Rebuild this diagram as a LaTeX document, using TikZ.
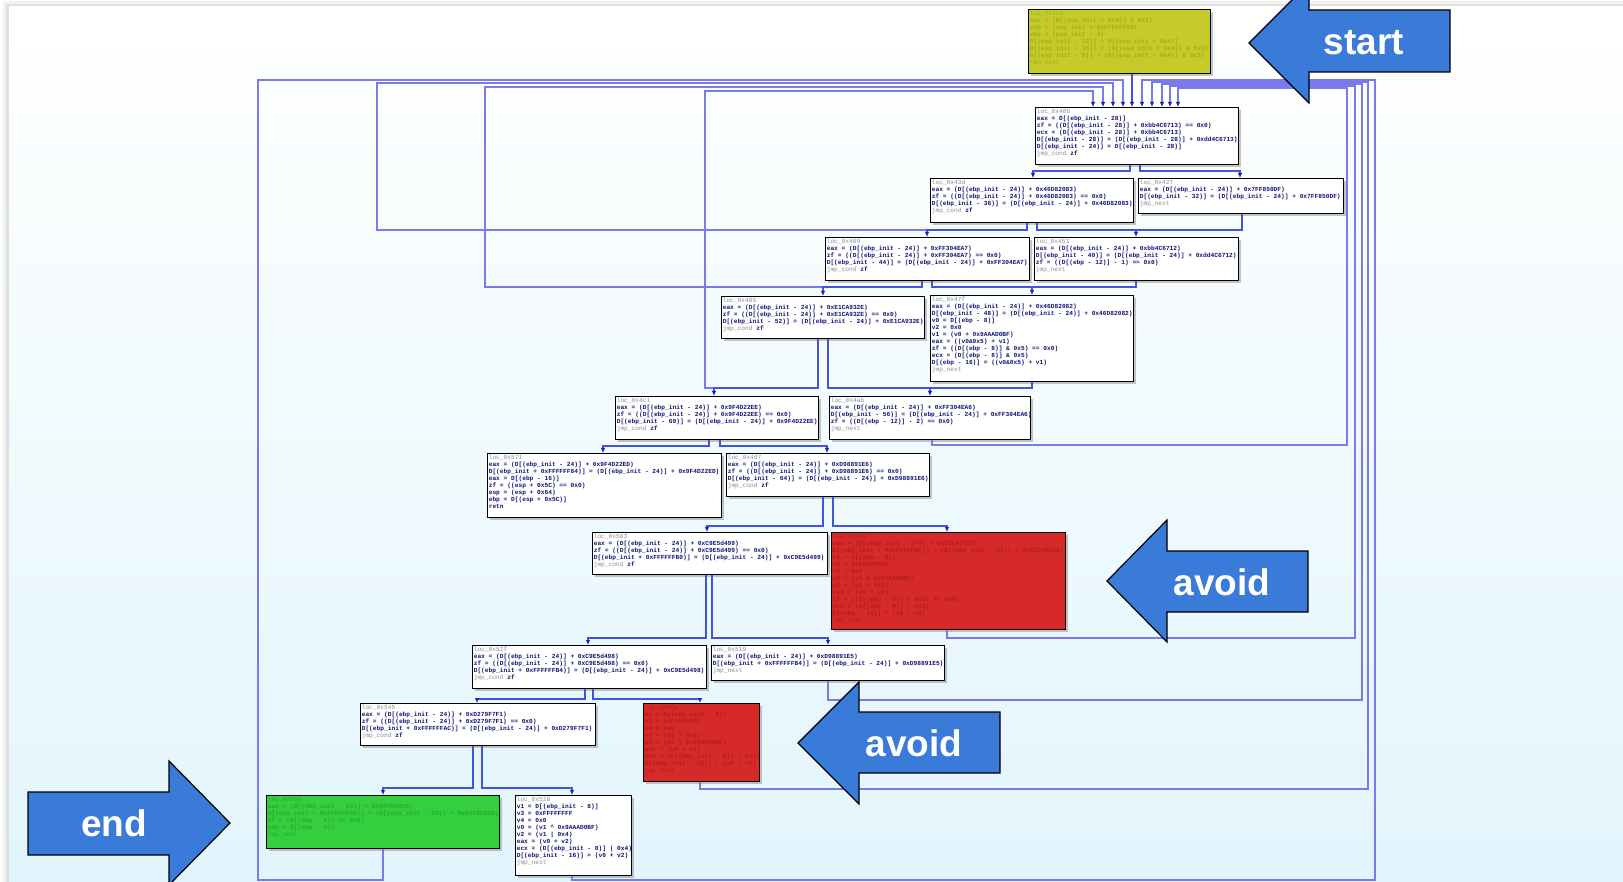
\documentclass[tikz,border=0pt]{standalone}
\usepackage{fontspec}
\setmonofont{Liberation Mono}
\newfontfamily\labelfont{Liberation Sans}
\usetikzlibrary{arrows.meta,shadows}

\definecolor{codeblue}{RGB}{18,20,120}
\definecolor{hdgray}{RGB}{140,140,150}
\definecolor{startfill}{RGB}{197,204,42}
\definecolor{starttext}{RGB}{165,172,28}
\definecolor{avoidfill}{RGB}{214,42,42}
\definecolor{avoidtext}{RGB}{180,28,28}
\definecolor{endfill}{RGB}{52,206,62}
\definecolor{endtext}{RGB}{38,172,46}
\definecolor{edgeblue}{RGB}{66,84,222}
\definecolor{backblue}{RGB}{122,122,234}
\definecolor{tipblue}{RGB}{20,36,190}
\definecolor{arrowblue}{RGB}{58,122,216}
\definecolor{bgcyan}{RGB}{226,245,252}
\colorlet{hdcol}{hdgray}

\newcommand\blkfont{\ttfamily\bfseries\fontsize{6.2}{7}\selectfont}
\newcommand\blkhd[1]{{\mdseries\color{hdcol}#1}}
\newcommand\blktext[3]{\parbox[c][#2pt][t]{#1pt}{\vspace*{1.2pt}\hspace*{1.3pt}\blkfont\begin{tabular}[t]{@{}l@{}}#3\end{tabular}}}

\tikzset{
    cfgbox/.style={draw=black, line width=1pt, inner sep=0pt, anchor=north west,
        drop shadow={shadow xshift=2.5pt, shadow yshift=-2.5pt, opacity=.45}},
    plainblk/.style={cfgbox, fill=white, text=codeblue},
    startblk/.style={cfgbox, fill=startfill, text=starttext, execute at begin node={\colorlet{hdcol}{starttext}}},
    avoidblk/.style={cfgbox, fill=avoidfill, text=avoidtext, execute at begin node={\colorlet{hdcol}{avoidtext}}},
    endblk/.style={cfgbox, fill=endfill, text=endtext, execute at begin node={\colorlet{hdcol}{endtext}}},
    cfgedge/.style={draw=edgeblue, line width=1.6pt, -{Latex[length=5pt,width=4.5pt,color=tipblue]}},
    cfgflow/.style={draw=edgeblue, line width=1.6pt},
    backedge/.style={draw=backblue, line width=1.3pt, -{Latex[length=5pt,width=4.5pt,color=tipblue]}},
    bigarrow/.style={fill=arrowblue, draw=black, line width=1.2pt},
    bigtext/.style={text=white, font=\labelfont\bfseries\fontsize{37}{40}\selectfont}
}

\begin{document}
\begin{tikzpicture}[x=1pt, y=-1pt]
            \useasboundingbox (0,0) rectangle (1623,882);

            \clip (0,0) rectangle (1623,882);

            \fill[white] (0,0) rectangle (1623,882);

            \fill[black!5] (3,1) rectangle (1623,882);

            \fill[black!12] (6,4) rectangle (1623,882);

            \shade[top color=white, bottom color=bgcyan] (9,7) rectangle (1623,882);

            \node[startblk] (b3c0) at (1028,9) {\blktext{182}{64}{\blkhd{loc\_0x3c0}\\
                eax = (D[(esp\_init + 0x4)] \& 0x3)\\
                esp = (esp\_init + 0xFFFFFF80)\\
                ebp = (esp\_init - 4)\\
                D[(esp\_init - 12)] = D[(esp\_init + 0x4)]\\
                D[(esp\_init - 16)] = (D[(esp\_init + 0x4)] \& 0x3)\\
                D[(esp\_init - 8)] = (D[(esp\_init + 0x4)] \& 0x3)\\
                \blkhd{jmp\_next}}};

            \node[plainblk] (b40b) at (1035,107) {\blktext{203}{57}{\blkhd{loc\_0x40b}\\
                eax = D[(ebp\_init - 28)]\\
                zf = ((D[(ebp\_init - 28)] + 0xbb4C6713) == 0x0)\\
                ecx = (D[(ebp\_init - 28)] + 0xbb4C6713)\\
                D[(ebp\_init - 28)] = (D[(ebp\_init - 28)] + 0xdd4C6713)\\
                D[(ebp\_init - 24)] = D[(ebp\_init - 28)]\\
                \blkhd{jmp\_cond} zf}};

            \node[plainblk] (b43d) at (930,178) {\blktext{203}{44}{\blkhd{loc\_0x43d}\\
                eax = (D[(ebp\_init - 24)] + 0x46D82083)\\
                zf = ((D[(ebp\_init - 24)] + 0x46D82083) == 0x0)\\
                D[(ebp\_init - 36)] = (D[(ebp\_init - 24)] + 0x46D82083)\\
                \blkhd{jmp\_cond} zf}};

            \node[plainblk] (b427) at (1138,178) {\blktext{205}{35}{\blkhd{loc\_0x427}\\
                eax = (D[(ebp\_init - 24)] + 0x7FF850DF)\\
                D[(ebp\_init - 32)] = (D[(ebp\_init - 24)] + 0x7FF850DF)\\
                \blkhd{jmp\_next}}};

            \node[plainblk] (b469) at (825,237) {\blktext{204}{43}{\blkhd{loc\_0x469}\\
                eax = (D[(ebp\_init - 24)] + 0xFF304EA7)\\
                zf = ((D[(ebp\_init - 24)] + 0xFF304EA7) == 0x0)\\
                D[(ebp\_init - 44)] = (D[(ebp\_init - 24)] + 0xFF304EA7)\\
                \blkhd{jmp\_cond} zf}};

            \node[plainblk] (b453) at (1034,237) {\blktext{204}{43}{\blkhd{loc\_0x453}\\
                eax = (D[(ebp\_init - 24)] + 0xbb4C6712)\\
                D[(ebp\_init - 40)] = (D[(ebp\_init - 24)] + 0xdd4C6712)\\
                zf = ((D[(ebp - 12)] - 1) == 0x0)\\
                \blkhd{jmp\_next}}};

            \node[plainblk] (b485) at (721,296) {\blktext{203}{42}{\blkhd{loc\_0x485}\\
                eax = (D[(ebp\_init - 24)] + 0xE1CA932E)\\
                zf = ((D[(ebp\_init - 24)] + 0xE1CA932E) == 0x0)\\
                D[(ebp\_init - 52)] = (D[(ebp\_init - 24)] + 0xE1CA932E)\\
                \blkhd{jmp\_cond} zf}};

            \node[plainblk] (b47f) at (930,295) {\blktext{203}{86}{\blkhd{loc\_0x47f}\\
                eax = (D[(ebp\_init - 24)] + 0x46D82082)\\
                D[(ebp\_init - 48)] = (D[(ebp\_init - 24)] + 0x46D82082)\\
                v0 = D[(ebp - 8)]\\
                v2 = 0x0\\
                v1 = (v0 + 0x9AAAD0BF)\\
                eax = ((v0\&0x5) + v1)\\
                zf = ((D[(ebp - 8)] \& 0x5) == 0x0)\\
                ecx = (D[(ebp - 8)] \& 0x5)\\
                D[(ebp - 16)] = ((v0\&0x5) + v1)\\
                \blkhd{jmp\_next}}};

            \node[plainblk] (b4c1) at (615,396) {\blktext{203}{43}{\blkhd{loc\_0x4c1}\\
                eax = (D[(ebp\_init - 24)] + 0x9F4D22EE)\\
                zf = ((D[(ebp\_init - 24)] + 0x9F4D22EE) == 0x0)\\
                D[(ebp\_init - 60)] = (D[(ebp\_init - 24)] + 0x9F4D22EE)\\
                \blkhd{jmp\_cond} zf}};

            \node[plainblk] (b4ab) at (829,396) {\blktext{201}{43}{\blkhd{loc\_0x4ab}\\
                eax = (D[(ebp\_init - 24)] + 0xFF304EA6)\\
                D[(ebp\_init - 56)] = (D[(ebp\_init - 24)] + 0xFF304EA6)\\
                zf = ((D[(ebp - 12)] - 2) == 0x0)\\
                \blkhd{jmp\_next}}};

            \node[plainblk] (b571) at (487,453) {\blktext{234}{64}{\blkhd{loc\_0x571}\\
                eax = (D[(ebp\_init - 24)] + 0x9F4D22ED)\\
                D[(ebp\_init + 0xFFFFFF84)] = (D[(ebp\_init - 24)] + 0x9F4D22ED)\\
                eax = D[(ebp - 16)]\\
                zf = ((esp + 0x5C) == 0x0)\\
                esp = (esp + 0x64)\\
                ebp = D[(esp + 0x5C)]\\
                retn}};

            \node[plainblk] (b4d7) at (726,453) {\blktext{203}{43}{\blkhd{loc\_0x4d7}\\
                eax = (D[(ebp\_init - 24)] + 0xD98891E6)\\
                zf = ((D[(ebp\_init - 24)] + 0xD98891E6) == 0x0)\\
                D[(ebp\_init - 64)] = (D[(ebp\_init - 24)] + 0xD98891E6)\\
                \blkhd{jmp\_cond} zf}};

            \node[plainblk] (b503) at (592,532) {\blktext{235}{42}{\blkhd{loc\_0x503}\\
                eax = (D[(ebp\_init - 24)] + 0xC9E5d499)\\
                zf = ((D[(ebp\_init - 24)] + 0xC9E5d499) == 0x0)\\
                D[(ebp\_init + 0xFFFFFFB0)] = (D[(ebp\_init - 24)] + 0xC9E5d499)\\
                \blkhd{jmp\_cond} zf}};

            \node[avoidblk] (b4e1) at (831,532) {\blktext{234}{97}{\blkhd{loc\_0x4e1}\\
                eax = (D[(ebp\_init - 24)] + 0xE1CA9329)\\
                D[(ebp\_init + 0xFFFFFFBC)] = (D[(ebp\_init - 24)] + 0xE1CA9329)\\
                v1 = D[(ebp - 8)]\\
                v3 = 0xFFFFFFFF\\
                v4 = 0x0\\
                v0 = (v1 \& 0x9AAAD0BF)\\
                v2 = (v1 + 0x3)\\
                eax = (v0 + v2)\\
                zf = ((D[(ebp - 8)] + 0x3) == 0x0)\\
                ecx = (D[(ebp - 8)] + 0x3)\\
                D[(ebp - 16)] = (v0 + v2)\\
                \blkhd{jmp\_next}}};

            \node[plainblk] (b52f) at (472,645) {\blktext{234}{43}{\blkhd{loc\_0x52f}\\
                eax = (D[(ebp\_init - 24)] + 0xC9E5d498)\\
                zf = ((D[(ebp\_init - 24)] + 0xC9E5d498) == 0x0)\\
                D[(ebp\_init + 0xFFFFFFB4)] = (D[(ebp\_init - 24)] + 0xC9E5d498)\\
                \blkhd{jmp\_cond} zf}};

            \node[plainblk] (b519) at (711,645) {\blktext{233}{35}{\blkhd{loc\_0x519}\\
                eax = (D[(ebp\_init - 24)] + 0xD98891E5)\\
                D[(ebp\_init + 0xFFFFFFB4)] = (D[(ebp\_init - 24)] + 0xD98891E5)\\
                \blkhd{jmp\_next}}};

            \node[plainblk] (b545) at (360,703) {\blktext{235}{42}{\blkhd{loc\_0x545}\\
                eax = (D[(ebp\_init - 24)] + 0xD279F7F1)\\
                zf = ((D[(ebp\_init - 24)] + 0xD279F7F1) == 0x0)\\
                D[(ebp\_init + 0xFFFFFFAC)] = (D[(ebp\_init - 24)] + 0xD279F7F1)\\
                \blkhd{jmp\_cond} zf}};

            \node[avoidblk] (b55a) at (643,703) {\blktext{116}{78}{\blkhd{loc\_0x55a}\\
                v1 = D[(ebp\_init - 8)]\\
                v3 = 0xFFFFFFFF\\
                v4 = 0x0\\
                v0 = (v1 \textasciicircum{} 0x2)\\
                v2 = (v1 | 0x9AAAD0BF)\\
                eax = (v0 + v2)\\
                ecx = (D[(ebp\_init - 8)] \textasciicircum{} 0x2)\\
                D[(ebp\_init - 16)] = (v0 + v2)\\
                \blkhd{jmp\_next}}};

            \node[endblk] (b55d) at (266,795) {\blktext{233}{53}{\blkhd{loc\_0x55d}\\
                eax = (D[(ebp\_init - 24)] + 0x0A792028)\\
                D[(ebp\_init + 0xFFFFFFA0)] = (D[(ebp\_init - 24)] + 0x0A792028)\\
                zf = (D[(ebp - 4)] == 0x0)\\
                edx = D[(ebp - 4)]\\
                \blkhd{jmp\_next}}};

            \node[plainblk] (b528) at (515,795) {\blktext{116}{80}{\blkhd{loc\_0x528}\\
                v1 = D[(ebp\_init - 8)]\\
                v3 = 0xFFFFFFFF\\
                v4 = 0x0\\
                v0 = (v1 \textasciicircum{} 0x9AAAD0BF)\\
                v2 = (v1 | 0x4)\\
                eax = (v0 + v2)\\
                ecx = (D[(ebp\_init - 8)] | 0x4)\\
                D[(ebp\_init - 16)] = (v0 + v2)\\
                \blkhd{jmp\_next}}};

            \draw[backedge] (383,0 |- b55d.south) |- (258,880) |- (1123,80) -- (1123,0 |- b40b.north);

            \draw[backedge] (1027,0 |- b43d.south) |- (377,230) |- (1113,83) -- (1113,0 |- b40b.north);

            \draw[backedge] (922,0 |- b469.south) |- (485,287) |- (1103,87) -- (1103,0 |- b40b.north);

            \draw[backedge] (818,0 |- b485.south) |- (705,388) |- (1093,91) -- (1093,0 |- b40b.north);

            \draw[backedge] (932,0 |- b4ab.south) |- (1347,445) |- (1178,88) -- (1178,0 |- b40b.north);

            \draw[backedge] (947,0 |- b4e1.south) |- (1355,638) |- (1170,86) -- (1170,0 |- b40b.north);

            \draw[backedge] (828,0 |- b519.south) |- (1362,700) |- (1162,84) -- (1162,0 |- b40b.north);

            \draw[backedge] (700,0 |- b55a.south) |- (1368,789) |- (1152,82) -- (1152,0 |- b40b.north);

            \draw[backedge] (572,0 |- b528.south) |- (1375,880) |- (1142,80) -- (1142,0 |- b40b.north);

            \draw[cfgedge] (1132,0 |- b3c0.south) -- (1132,0 |- b40b.north);

            \draw[cfgedge] (1130,0 |- b40b.south) |- (1033,171) -- (1033,0 |- b43d.north);

            \draw[cfgedge] (1140,0 |- b40b.south) |- (1240,171) -- (1240,0 |- b427.north);

            \draw[cfgedge] (1027,0 |- b43d.south) |- (927,230) -- (927,0 |- b469.north);

            \draw[cfgedge] (1037,0 |- b43d.south) |- (1136,230) -- (1136,0 |- b453.north);

            \draw[cfgflow] (1242,0 |- b427.south) |- (1136,230);

            \draw[cfgedge] (922,0 |- b469.south) |- (823,287) -- (823,0 |- b485.north);

            \draw[cfgedge] (932,0 |- b469.south) |- (1032,287) -- (1032,0 |- b47f.north);

            \draw[cfgflow] (1136,0 |- b453.south) |- (1032,287);

            \draw[cfgedge] (818,0 |- b485.south) |- (714,388) -- (714,0 |- b4c1.north);

            \draw[cfgedge] (828,0 |- b485.south) |- (930,388) -- (930,0 |- b4ab.north);

            \draw[cfgflow] (1032,0 |- b47f.south) |- (930,388);

            \draw[cfgedge] (709,0 |- b4c1.south) |- (603,446) -- (603,0 |- b571.north);

            \draw[cfgedge] (720,0 |- b4c1.south) |- (827,446) -- (827,0 |- b4d7.north);

            \draw[cfgedge] (823,0 |- b4d7.south) |- (707,526) -- (707,0 |- b503.north);

            \draw[cfgedge] (833,0 |- b4d7.south) |- (947,526) -- (947,0 |- b4e1.north);

            \draw[cfgedge] (706,0 |- b503.south) |- (588,638) -- (588,0 |- b52f.north);

            \draw[cfgedge] (712,0 |- b503.south) |- (828,638) -- (828,0 |- b519.north);

            \draw[cfgedge] (585,0 |- b52f.south) |- (477,699) -- (477,0 |- b545.north);

            \draw[cfgedge] (593,0 |- b52f.south) |- (700,699) -- (700,0 |- b55a.north);

            \draw[cfgedge] (473,0 |- b545.south) |- (383,788) -- (383,0 |- b55d.north);

            \draw[cfgedge] (482,0 |- b545.south) |- (572,788) -- (572,0 |- b528.north);

            \draw[bigarrow] (1249,43) -- (1309,-17) -- (1309,10) -- (1450,10) -- (1450,72) -- (1309,72) -- (1309,103) -- cycle;

            \node[bigtext] (startlbl) at (1364,43) {start};

            \draw[bigarrow] (1107,581) -- (1167,520) -- (1167,551) -- (1308,551) -- (1308,612) -- (1167,612) -- (1167,642) -- cycle;

            \node[bigtext] (avoidlbla) at (1222,582) {avoid};

            \draw[bigarrow] (798,743) -- (859,682) -- (859,712) -- (1000,712) -- (1000,773) -- (859,773) -- (859,804) -- cycle;

            \node[bigtext] (avoidlblb) at (914,743) {avoid};

            \draw[bigarrow] (28,792) -- (169,792) -- (169,761) -- (230,823) -- (169,885) -- (169,855) -- (28,855) -- cycle;

            \node[bigtext] (endlbl) at (114,823) {end};
\end{tikzpicture}
\end{document}
